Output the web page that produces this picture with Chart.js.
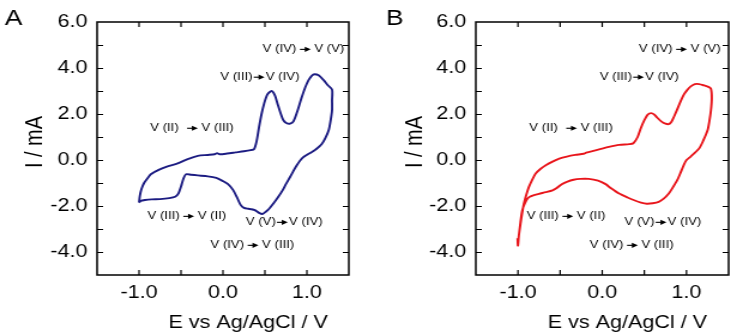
<!DOCTYPE html>
<html>
<head>
<meta charset="utf-8">
<title>Cyclic voltammograms A / B</title>
<script src="https://cdn.jsdelivr.net/npm/chart.js@4.4.1/dist/chart.umd.min.js"></script>
<style>
  html, body { margin: 0; padding: 0; background: #fff; }
  #wrap { position: relative; width: 737px; height: 336px; overflow: hidden; }
  canvas { position: absolute; top: 0; }
</style>
</head>
<body>
<div id="wrap">
  <!-- the source figure is stretched sideways, so each canvas is drawn narrow and scaled up -->
  <canvas id="panelA" width="307" height="336" style="left:0;width:368px;height:336px"></canvas>
  <canvas id="panelB" width="308" height="336" style="left:368px;width:369px;height:336px"></canvas>
</div>
<script>
// Panel A: potential (V) and current (mA), anodic sweep then cathodic sweep
const eA = [-1.00, -0.99, -0.97, -0.94, -0.90, -0.86, -0.76, -0.66, -0.54, -0.42, -0.30, -0.18, -0.10, -0.07, -0.04,
  0.05, 0.15, 0.25, 0.33, 0.37, 0.40, 0.43, 0.46, 0.49, 0.53, 0.58, 0.62, 0.65, 0.69, 0.72, 0.76, 0.80, 0.84, 0.88,
  0.94, 0.98, 1.02, 1.06, 1.09, 1.14, 1.20, 1.25, 1.30,
  1.30, 1.30, 1.28, 1.26, 1.22, 1.18, 1.12, 1.06, 0.96, 0.92, 0.88, 0.84, 0.80, 0.75, 0.71, 0.66, 0.61, 0.55, 0.51,
  0.47, 0.43, 0.38, 0.34, 0.30, 0.25, 0.21, 0.17, 0.12, 0.06, 0.00, -0.08, -0.18, -0.30, -0.38, -0.44, -0.47, -0.50,
  -0.53, -0.57, -0.64, -0.75, -0.85, -0.93, -0.98, -1.00];
const iA = [-1.85, -1.55, -1.25, -1.00, -0.80, -0.62, -0.42, -0.28, -0.15, 0.04, 0.18, 0.22, 0.25, 0.30, 0.25,
  0.28, 0.33, 0.38, 0.43, 0.47, 0.80, 1.43, 2.00, 2.45, 2.85, 3.00, 2.80, 2.45, 2.00, 1.73, 1.60, 1.58, 1.68, 2.05,
  2.74, 3.15, 3.47, 3.67, 3.73, 3.68, 3.47, 3.25, 3.06,
  2.60, 2.16, 1.65, 1.29, 0.95, 0.71, 0.50, 0.35, 0.13, -0.02, -0.23, -0.47, -0.74, -1.05, -1.32, -1.60, -1.85, -2.12, -2.25,
  -2.35, -2.30, -2.18, -2.14, -2.12, -2.08, -1.95, -1.65, -1.30, -1.05, -0.92, -0.78, -0.71, -0.67, -0.64, -0.62, -0.80, -1.15,
  -1.45, -1.60, -1.66, -1.70, -1.71, -1.74, -1.78, -1.85];

// Panel B
const eB = [-1.005, -1.00, -0.99, -0.97, -0.95, -0.93, -0.90, -0.87, -0.83, -0.79, -0.73, -0.67, -0.59, -0.51, -0.42,
  -0.32, -0.22, -0.19, -0.08, 0.08, 0.20, 0.32, 0.37, 0.42, 0.46, 0.50, 0.54, 0.58, 0.62, 0.65, 0.70, 0.75, 0.79,
  0.82, 0.85, 0.89, 0.93, 0.97, 1.01, 1.05, 1.10, 1.15, 1.21, 1.26, 1.29,
  1.30, 1.29, 1.27, 1.25, 1.20, 1.15, 1.05, 1.00, 0.97, 0.93, 0.89, 0.84, 0.79, 0.73, 0.67, 0.60, 0.53, 0.46, 0.38,
  0.30, 0.20, 0.10, 0.04, -0.05, -0.16, -0.26, -0.34, -0.42, -0.48, -0.54, -0.59, -0.67, -0.75, -0.81, -0.86, -0.89,
  -0.92, -0.95, -0.97, -0.99, -1.00];
const iB = [-3.40, -3.72, -3.30, -2.77, -2.30, -1.90, -1.50, -1.17, -0.85, -0.59, -0.38, -0.23, -0.07, 0.06, 0.15,
  0.22, 0.27, 0.32, 0.42, 0.57, 0.66, 0.69, 0.73, 1.00, 1.40, 1.73, 1.97, 2.04, 1.97, 1.85, 1.68, 1.58, 1.56,
  1.65, 1.87, 2.20, 2.55, 2.85, 3.05, 3.20, 3.30, 3.30, 3.24, 3.18, 3.10,
  2.70, 2.16, 1.65, 1.29, 0.85, 0.50, 0.15, 0.00, -0.20, -0.55, -0.88, -1.18, -1.46, -1.68, -1.82, -1.88, -1.90, -1.85, -1.75,
  -1.63, -1.46, -1.22, -1.05, -0.90, -0.82, -0.82, -0.86, -0.95, -1.05, -1.22, -1.32, -1.40, -1.47, -1.53, -1.60, -1.70,
  -1.90, -2.20, -2.70, -3.30, -3.72];

const xTickLabels = ["-1.0", "0.0", "1.0"];
const yTickLabels = ["-4.0", "-2.0", "0.0", "2.0", "4.0", "6.0"];
// redox notes: text before and after the arrow
const noteFrom = ["V (IV)", "V (III)", "V (II)", "V (III)", "V (V)", "V (IV)"];
const noteTo = ["V (V)", "V (IV)", "V (III)", "V (II)", "V (IV)", "V (III)"];
// where each note sits, in data units (E, I)
const notesAtA = [[0.96, 4.81], [0.44, 3.60], [-0.37, 1.38], [-0.43, -2.45], [0.73, -2.71], [0.35, -3.71]];
const notesAtB = [[0.92, 4.81], [0.44, 3.60], [-0.37, 1.38], [-0.43, -2.45], [0.72, -2.71], [0.35, -3.71]];
// space before / after each arrow (px)
const arrowGaps = [[3, 3], [1, 1], [7, 3], [3, 3], [1, 1], [3, 3]];

const FONT = '"Liberation Sans", Arial, Helvetica, sans-serif';
const INK = '#000';

function drawNote(ctx, i, cx, cy) {
  const a = ctx.measureText(noteFrom[i]).width;
  const b = ctx.measureText(noteTo[i]).width;
  const [g1, g2] = arrowGaps[i];
  const arrowLen = 9;
  let x0 = cx - (a + g1 + arrowLen + g2 + b) / 2;
  ctx.fillText(noteFrom[i], x0, cy);
  x0 += a + g1;
  ctx.beginPath();
  ctx.moveTo(x0, cy);
  ctx.lineTo(x0 + arrowLen - 4, cy);
  ctx.stroke();
  ctx.beginPath();
  ctx.moveTo(x0 + arrowLen - 5, cy - 2.6);
  ctx.lineTo(x0 + arrowLen, cy);
  ctx.lineTo(x0 + arrowLen - 5, cy + 2.6);
  ctx.closePath();
  ctx.fill();
  ctx.fillText(noteTo[i], x0 + arrowLen + g2, cy);
}

// frame, inward ticks, notes and titles
function decorations(p) {
  return {
    id: 'decor' + p.letter,
    afterDatasetsDraw(chart) {
      const { ctx, chartArea: a, scales: { x, y } } = chart;
      ctx.save();
      ctx.strokeStyle = INK;
      ctx.lineWidth = 1.5;
      ctx.strokeRect(a.left, a.top, a.right - a.left, a.bottom - a.top);

      ctx.lineWidth = 1.2;
      ctx.beginPath();
      for (let v = -4; v <= 5; v++) {
        const py = Math.round(y.getPixelForValue(v)) + 0.5;
        ctx.moveTo(a.left, py); ctx.lineTo(a.left + 5, py);
        ctx.moveTo(a.right, py); ctx.lineTo(a.right - 5, py);
      }
      for (let v = -1; v <= 1.001; v += 0.5) {
        const px = x.getPixelForValue(v);
        ctx.moveTo(px, a.bottom); ctx.lineTo(px, a.bottom - 5);
        ctx.moveTo(px, a.top); ctx.lineTo(px, a.top + 5);
      }
      ctx.stroke();

      ctx.fillStyle = INK;
      ctx.lineWidth = 1.1;
      ctx.font = '11px ' + FONT;
      ctx.textAlign = 'left';
      ctx.textBaseline = 'middle';
      p.notes.forEach((n, i) => drawNote(ctx, i, x.getPixelForValue(n[0]), y.getPixelForValue(n[1])));

      ctx.textAlign = 'center';
      ctx.font = '18px ' + FONT;
      ctx.textBaseline = 'alphabetic';
      ctx.fillText('E vs Ag/AgCl / V', a.left + 0.6 * (a.right - a.left), 328);

      ctx.save();
      ctx.translate(p.yTitleX, 142);
      ctx.rotate(-Math.PI / 2);
      ctx.font = '20px ' + FONT;
      ctx.textBaseline = 'middle';
      ctx.fillText('I / mA', 0, 0);
      ctx.restore();

      ctx.font = '22px ' + FONT;
      ctx.textAlign = 'left';
      ctx.fillText(p.letter, p.letterX, 25);
      ctx.restore();
    }
  };
}

function makePanel(id, p) {
  const pts = p.e.map((v, i) => ({ x: v, y: p.i[i] }));
  return new Chart(document.getElementById(id), {
    type: 'scatter',
    data: {
      datasets: [{
        data: pts,
        showLine: true,
        borderColor: p.color,
        borderWidth: 1.9,
        pointRadius: 0,
        tension: 0.25
      }]
    },
    options: {
      responsive: false,
      animation: false,
      devicePixelRatio: 1,
      layout: { padding: { left: 0, right: p.padRight, top: 22, bottom: 0 } },
      plugins: { legend: { display: false }, tooltip: { enabled: false } },
      scales: {
        x: {
          type: 'linear',
          min: -1.5,
          max: 1.5,
          grid: { display: false, drawTicks: false },
          border: { display: false },
          afterFit: s => { s.height = 61; },
          ticks: {
            stepSize: 0.5,
            padding: 7,
            maxRotation: 0,
            autoSkip: false,
            color: INK,
            font: { family: FONT, size: 18 },
            callback: v => xTickLabels.find(l => Math.abs(parseFloat(l) - v) < 1e-6) || ''
          }
        },
        y: {
          type: 'linear',
          min: -5,
          max: 6,
          grid: { display: false, drawTicks: false },
          border: { display: false },
          afterFit: s => { s.width = p.axisLeft; },
          ticks: {
            stepSize: 1,
            padding: 8,
            autoSkip: false,
            color: INK,
            font: { family: FONT, size: 18 },
            callback: v => yTickLabels.find(l => Math.abs(parseFloat(l) - v) < 1e-6) || ''
          }
        }
      }
    },
    plugins: [decorations(p)]
  });
}

makePanel('panelA', {
  letter: 'A', letterX: 4, yTitleX: 29, axisLeft: 81, padRight: 16,
  e: eA, i: iA, color: '#1c1c82', notes: notesAtA
});
makePanel('panelB', {
  letter: 'B', letterX: 15, yTitleX: 39, axisLeft: 90, padRight: 7,
  e: eB, i: iB, color: '#e8151b', notes: notesAtB
});
</script>
</body>
</html>
